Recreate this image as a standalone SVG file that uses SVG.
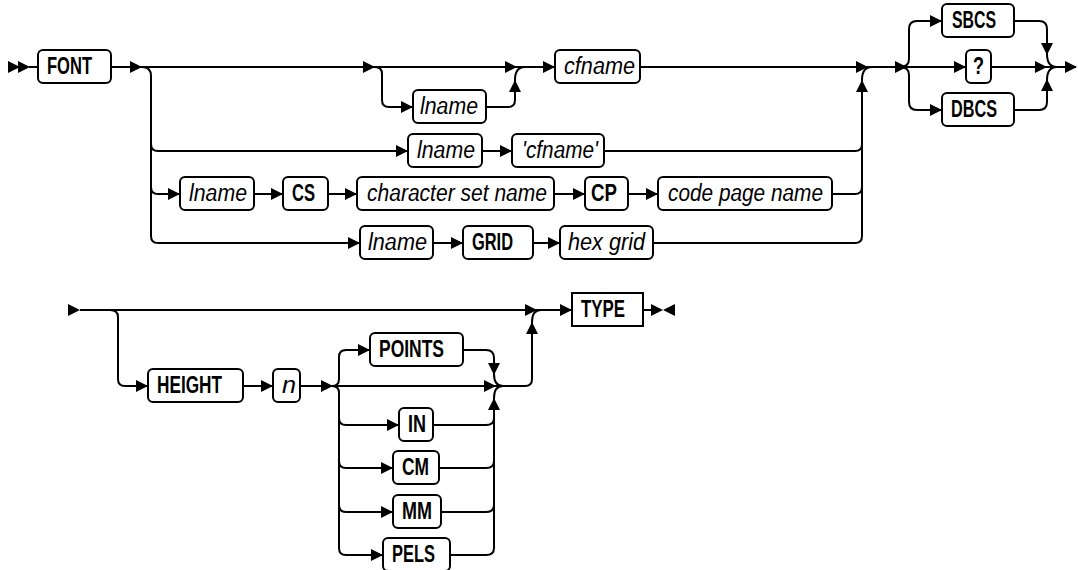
<svg xmlns="http://www.w3.org/2000/svg" xmlns:xlink="http://www.w3.org/1999/xlink" width="1078" height="570" viewBox="0 0 1078 570">
<style>
.bx{fill:#fff;stroke:#000;stroke-width:2}
.ln{fill:none;stroke:#000;stroke-width:2}
.kw{font-family:"Liberation Sans",Arial,sans-serif;font-weight:bold;font-size:24px;fill:#000}
.it{font-family:"Liberation Sans",Arial,sans-serif;font-style:italic;font-size:23px;fill:#000}
</style>
<defs>
<path id="ah" d="M-12,-6 L0,0 L-12,6 Z" fill="#000"/>
</defs>
<rect width="1078" height="570" fill="#fff"/>
<g id="connectors">
<path class="ln" d="M29,67 H38 M111,67 H555 M640,67 H966 M991,67 H1076"/>
<path class="ln" d="M142,67 Q151,67 151,76 V236 Q151,243 158,243 H360 M151,144 Q151,151 158,151 H408 M151,187 Q151,194 158,194 H180"/>
<path class="ln" d="M375,67 Q382,67 382,74 V100 Q382,107 389,107 H413 M486,107 H508 Q515,107 515,100 V80 M515,80 Q515,67 525,67"/>
<path class="ln" d="M482,151 H512 M604,151 H855 Q862,151 862,144 M254,194 H283 M328,194 H357 M554,194 H585 M628,194 H658 M832,194 H855 Q862,194 862,187 M433,243 H463 M533,243 H560 M653,243 H855 Q862,243 862,236 V80 M862,80 Q862,67 872,67"/>
<path class="ln" d="M900,67 Q909,67 909,59 V29 Q909,21 917,21 H942 M900,67 Q909,67 909,75 V102 Q909,110 917,110 H942"/>
<path class="ln" d="M1014,21 H1039 Q1047,21 1047,29 V54 M1047,54 Q1047,67 1057,67 M1014,110 H1039 Q1047,110 1047,102 V80 M1047,80 Q1047,67 1057,67"/>
<use xlink:href="#ah" transform="translate(20,67)"/>
<use xlink:href="#ah" transform="translate(30,67)"/>
<use xlink:href="#ah" transform="translate(142,67)"/>
<use xlink:href="#ah" transform="translate(375,67)"/>
<use xlink:href="#ah" transform="translate(413,107)"/>
<use xlink:href="#ah" transform="translate(517,67)"/>
<use xlink:href="#ah" transform="translate(515,80) rotate(-90)"/>
<use xlink:href="#ah" transform="translate(555,67)"/>
<use xlink:href="#ah" transform="translate(408,151)"/>
<use xlink:href="#ah" transform="translate(512,151)"/>
<use xlink:href="#ah" transform="translate(180,194)"/>
<use xlink:href="#ah" transform="translate(283,194)"/>
<use xlink:href="#ah" transform="translate(357,194)"/>
<use xlink:href="#ah" transform="translate(585,194)"/>
<use xlink:href="#ah" transform="translate(658,194)"/>
<use xlink:href="#ah" transform="translate(360,243)"/>
<use xlink:href="#ah" transform="translate(463,243)"/>
<use xlink:href="#ah" transform="translate(560,243)"/>
<use xlink:href="#ah" transform="translate(868,67)"/>
<use xlink:href="#ah" transform="translate(862,80) rotate(-90)"/>
<use xlink:href="#ah" transform="translate(907,67)"/>
<use xlink:href="#ah" transform="translate(942,21)"/>
<use xlink:href="#ah" transform="translate(966,67)"/>
<use xlink:href="#ah" transform="translate(942,110)"/>
<use xlink:href="#ah" transform="translate(1047,55) rotate(90)"/>
<use xlink:href="#ah" transform="translate(1047,79) rotate(-90)"/>
<use xlink:href="#ah" transform="translate(1047,67)"/>
<use xlink:href="#ah" transform="translate(1077,67)"/>
<path class="ln" d="M80,310 H572 M110,310 Q118,310 118,317 V379 Q118,386 125,386 H148 M243,386 H273 M300,386 H495"/>
<path class="ln" d="M332,386 Q339,386 339,379 V357 Q339,350 346,350 H370 M332,386 Q339,386 339,393 V548 Q339,555 346,555 H383 M339,418 Q339,425 346,425 H399 M339,461 Q339,468 346,468 H393 M339,505 Q339,512 346,512 H393"/>
<path class="ln" d="M463,350 H486 Q494,350 494,358 V374 M494,374 Q494,386 503,386 M450,555 H486 Q494,555 494,548 V398 M494,398 Q494,386 503,386 M433,425 H486 Q494,425 494,418 M439,468 H486 Q494,468 494,461 M441,512 H486 Q494,512 494,505"/>
<path class="ln" d="M494,386 H525 Q532,386 532,379 V322 M532,322 Q532,310 541,310 M643,310 H652"/>
<use xlink:href="#ah" transform="translate(80,310)"/>
<use xlink:href="#ah" transform="translate(148,386)"/>
<use xlink:href="#ah" transform="translate(273,386)"/>
<use xlink:href="#ah" transform="translate(333,386)"/>
<use xlink:href="#ah" transform="translate(370,350)"/>
<use xlink:href="#ah" transform="translate(399,425)"/>
<use xlink:href="#ah" transform="translate(393,468)"/>
<use xlink:href="#ah" transform="translate(393,512)"/>
<use xlink:href="#ah" transform="translate(383,555)"/>
<use xlink:href="#ah" transform="translate(496,386)"/>
<use xlink:href="#ah" transform="translate(494,375) rotate(90)"/>
<use xlink:href="#ah" transform="translate(494,398) rotate(-90)"/>
<use xlink:href="#ah" transform="translate(537,310)"/>
<use xlink:href="#ah" transform="translate(532,322) rotate(-90)"/>
<use xlink:href="#ah" transform="translate(572,310)"/>
<use xlink:href="#ah" transform="translate(663,310)"/>
<use xlink:href="#ah" transform="translate(663,310) rotate(180)"/>
</g>
<g id="n-font"><rect class="bx" x="38" y="50" width="73" height="33" rx="5"/><text class="kw" x="47" y="74" textLength="45" lengthAdjust="spacingAndGlyphs">FONT</text></g>
<g id="n-lname1"><rect class="bx" x="413" y="90" width="73" height="33" rx="5"/><text class="it" x="420" y="114" textLength="58" lengthAdjust="spacingAndGlyphs">lname</text></g>
<g id="n-cfname"><rect class="bx" x="555" y="50" width="85" height="33" rx="5"/><text class="it" x="564" y="74" textLength="71" lengthAdjust="spacingAndGlyphs">cfname</text></g>
<g id="n-lname2"><rect class="bx" x="408" y="134" width="74" height="33" rx="5"/><text class="it" x="417" y="158" textLength="58" lengthAdjust="spacingAndGlyphs">lname</text></g>
<g id="n-qcfname"><rect class="bx" x="512" y="134" width="92" height="33" rx="5"/><text class="it" x="522" y="158" textLength="76" lengthAdjust="spacingAndGlyphs">'cfname'</text></g>
<g id="n-lname3"><rect class="bx" x="180" y="177" width="74" height="33" rx="5"/><text class="it" x="189" y="201" textLength="58" lengthAdjust="spacingAndGlyphs">lname</text></g>
<g id="n-cs"><rect class="bx" x="283" y="177" width="45" height="33" rx="5"/><text class="kw" x="292" y="201" textLength="23" lengthAdjust="spacingAndGlyphs">CS</text></g>
<g id="n-charset"><rect class="bx" x="357" y="177" width="197" height="33" rx="5"/><text class="it" x="367" y="201" textLength="180" lengthAdjust="spacingAndGlyphs">character set name</text></g>
<g id="n-cp"><rect class="bx" x="585" y="177" width="43" height="33" rx="5"/><text class="kw" x="591" y="201" textLength="26" lengthAdjust="spacingAndGlyphs">CP</text></g>
<g id="n-codepage"><rect class="bx" x="658" y="177" width="174" height="33" rx="5"/><text class="it" x="668" y="201" textLength="155" lengthAdjust="spacingAndGlyphs">code page name</text></g>
<g id="n-lname4"><rect class="bx" x="360" y="226" width="73" height="33" rx="5"/><text class="it" x="368" y="250" textLength="59" lengthAdjust="spacingAndGlyphs">lname</text></g>
<g id="n-grid"><rect class="bx" x="463" y="226" width="70" height="33" rx="5"/><text class="kw" x="472" y="250" textLength="41" lengthAdjust="spacingAndGlyphs">GRID</text></g>
<g id="n-hexgrid"><rect class="bx" x="560" y="226" width="93" height="33" rx="5"/><text class="it" x="568" y="250" textLength="77" lengthAdjust="spacingAndGlyphs">hex grid</text></g>
<g id="n-sbcs"><rect class="bx" x="942" y="4" width="72" height="33" rx="5"/><text class="kw" x="952" y="28" textLength="44" lengthAdjust="spacingAndGlyphs">SBCS</text></g>
<g id="n-q"><rect class="bx" x="966" y="50" width="25" height="33" rx="5"/><text class="kw" x="973" y="74" textLength="11" lengthAdjust="spacingAndGlyphs">?</text></g>
<g id="n-dbcs"><rect class="bx" x="942" y="93" width="72" height="33" rx="5"/><text class="kw" x="951" y="117" textLength="46" lengthAdjust="spacingAndGlyphs">DBCS</text></g>
<g id="n-height"><rect class="bx" x="148" y="369" width="95" height="33" rx="5"/><text class="kw" x="157" y="393" textLength="65" lengthAdjust="spacingAndGlyphs">HEIGHT</text></g>
<g id="n-n"><rect class="bx" x="273" y="369" width="27" height="33" rx="5"/><text class="it" x="282" y="393" textLength="14" lengthAdjust="spacingAndGlyphs">n</text></g>
<g id="n-points"><rect class="bx" x="370" y="333" width="93" height="33" rx="5"/><text class="kw" x="379" y="357" textLength="65" lengthAdjust="spacingAndGlyphs">POINTS</text></g>
<g id="n-in"><rect class="bx" x="399" y="408" width="34" height="33" rx="5"/><text class="kw" x="408" y="432" textLength="18" lengthAdjust="spacingAndGlyphs">IN</text></g>
<g id="n-cm"><rect class="bx" x="393" y="451" width="46" height="33" rx="5"/><text class="kw" x="402" y="475" textLength="27" lengthAdjust="spacingAndGlyphs">CM</text></g>
<g id="n-mm"><rect class="bx" x="393" y="495" width="48" height="33" rx="5"/><text class="kw" x="402" y="519" textLength="30" lengthAdjust="spacingAndGlyphs">MM</text></g>
<g id="n-pels"><rect class="bx" x="383" y="538" width="67" height="33" rx="5"/><text class="kw" x="392" y="562" textLength="43" lengthAdjust="spacingAndGlyphs">PELS</text></g>
<g id="n-type"><rect class="bx" x="572" y="293" width="71" height="33"/><text class="kw" x="581" y="317" textLength="44" lengthAdjust="spacingAndGlyphs">TYPE</text></g>
</svg>
